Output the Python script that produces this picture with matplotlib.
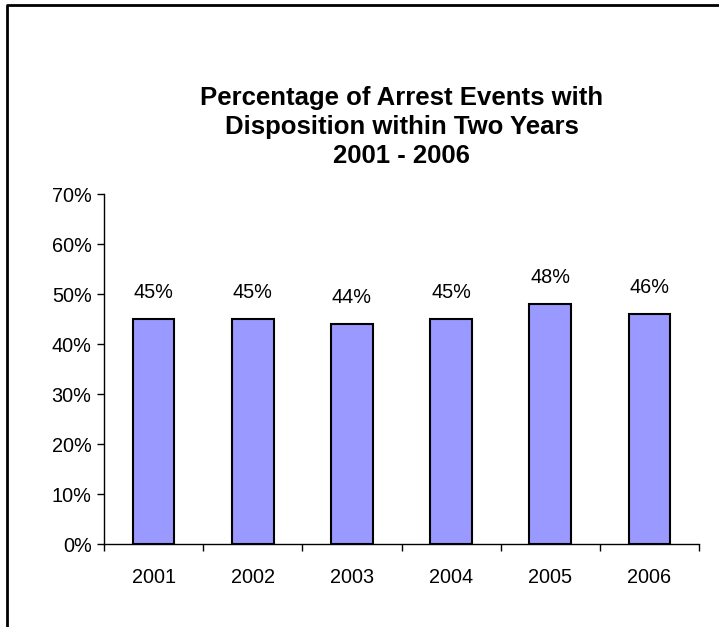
import matplotlib.pyplot as plt
from matplotlib.lines import Line2D
from matplotlib.ticker import FixedLocator, PercentFormatter

# chart data
years = ['2001', '2002', '2003', '2004', '2005', '2006']
pct = [45, 45, 44, 45, 48, 46]
yticks = [0, 10, 20, 30, 40, 50, 60, 70]

plt.rcParams['font.family'] = ['Liberation Sans', 'DejaVu Sans']

fig = plt.figure(figsize=(7.19, 6.27), dpi=100)
ax = fig.add_axes([104 / 719, 1 - 544 / 627, 595 / 719, 350 / 627])

x = range(len(years))
bars = ax.bar(x, pct, width=0.42, color='#9999FF', edgecolor='black', linewidth=1.5)

# value labels above the bars
for xi, v in zip(x, pct):
    ax.annotate(f'{v}%', (xi, v), xytext=(0, 12), textcoords='offset points',
                ha='center', va='bottom', fontsize=14.3)

ax.set_xlim(-0.5, len(years) - 0.5)
ax.set_ylim(0, 70)
ax.set_yticks(yticks)
ax.yaxis.set_major_formatter(PercentFormatter(decimals=0))
ax.set_xticks(list(x))
ax.set_xticklabels(years)
ax.xaxis.set_minor_locator(FixedLocator([i - 0.5 for i in range(len(years) + 1)]))
ax.tick_params(axis='x', which='major', length=0, pad=17, labelsize=14.3)
ax.tick_params(axis='x', which='minor', length=5, width=1, direction='out')
ax.tick_params(axis='y', length=5, width=1, direction='out', pad=4, labelsize=14.3)

for s in ['top', 'right']:
    ax.spines[s].set_visible(False)
for s in ['left', 'bottom']:
    ax.spines[s].set_linewidth(1)
    ax.spines[s].set_color('black')

fig.text(401.5 / 719, 1 - 127 / 627,
         'Percentage of Arrest Events with\nDisposition within Two Years\n2001 - 2006',
         ha='center', va='center', fontsize=18.5, fontweight='bold', linespacing=1.27)

# outer frame (left and top edges)
fig.add_artist(Line2D([7 / 719, 7 / 719, 1.0], [0.0, 1 - 5 / 627, 1 - 5 / 627],
                      transform=fig.transFigure, color='black', linewidth=2))

fig.savefig('out.png', dpi=100)
